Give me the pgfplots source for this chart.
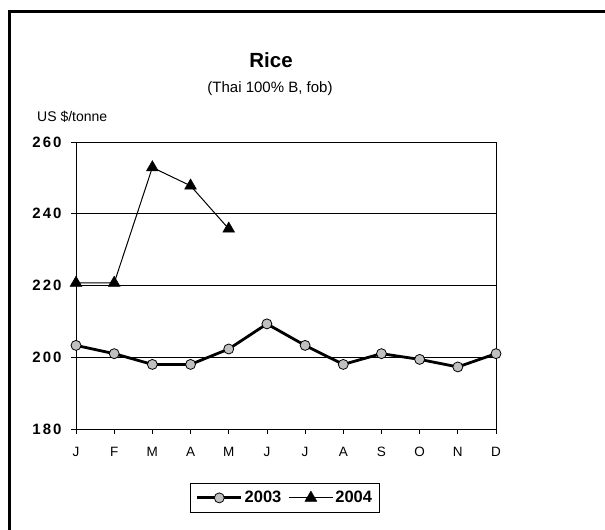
\documentclass[border=0pt]{standalone}
\usepackage{fontspec}
\setmainfont{Liberation Sans}
\usepackage{pgfplots}
\pgfplotsset{compat=1.18}
\definecolor{markgray}{HTML}{C0C0C0}
\newcommand{\spd}[3]{#1\kern2pt#2\kern2pt#3}
\begin{document}
\begin{tikzpicture}[x=1pt,y=1pt]
\path[use as bounding box] (0,0) rectangle (605,530);
\draw[line width=3pt] (9,0) -- (9,518) -- (605,518);
\node[font=\bfseries\fontsize{20.5}{24}\selectfont] at (271,470) {Rice};
\node[font=\fontsize{15}{17}\selectfont] at (270,441) {(Thai 100\% B, fob)};
\node[anchor=west, font=\fontsize{14}{16}\selectfont, inner sep=0pt] at (37,413) {US \$/tonne};
\begin{axis}[
  at={(76pt,101pt)}, anchor=south west,
  scale only axis, width=420pt, height=287pt,
  xmin=0, xmax=11, ymin=180, ymax=260,
  xtick={0,...,11},
  xticklabels={J,F,M,A,M,J,J,A,S,O,N,D},
  ytick={180,200,220,240,260},
  yticklabels={\spd180,\spd200,\spd220,\spd240,\spd260},
  ymajorgrids,
  grid style={black, line width=0.8pt},
  axis line style={line width=0.8pt},
  tick style={black, line width=0.8pt},
  tick align=outside, major tick length=5pt,
  xtick pos=bottom, ytick pos=left,
  yticklabel style={font=\bfseries\fontsize{15}{17}\selectfont, xshift=-6pt},
  xticklabel style={font=\fontsize{13.5}{15}\selectfont, yshift=-10pt},
  clip=false,
  legend columns=2,
  legend style={at={(0.4976,-0.240)}, anchor=center, draw=black, line width=0.8pt,
    font=\bfseries\fontsize{16.5}{19}\selectfont, inner xsep=5pt, inner ysep=6pt,
    /tikz/every even column/.append style={column sep=5pt}},
  legend image code/.code={\draw[mark repeat=2,mark phase=2,#1] plot coordinates {(0pt,0pt)(22pt,0pt)(44pt,0pt)};},
]
\addplot[black, line width=2.8pt, mark=*, mark size=5pt,
  mark options={fill=markgray, draw=black, line width=0.8pt}]
  coordinates {(0,203.3)(1,201)(2,198)(3,198)(4,202.3)(5,209.3)(6,203.3)(7,198)(8,201)(9,199.4)(10,197.3)(11,201)};
\addlegendentry{2003}
\addplot[black, line width=1pt, mark=triangle*, mark size=6.8pt,
  mark options={fill=black, draw=black, line width=0.5pt}]
  coordinates {(0,220.7)(1,220.7)(2,252.9)(3,247.8)(4,235.8)};
\addlegendentry{2004}
\end{axis}
\end{tikzpicture}
\end{document}
